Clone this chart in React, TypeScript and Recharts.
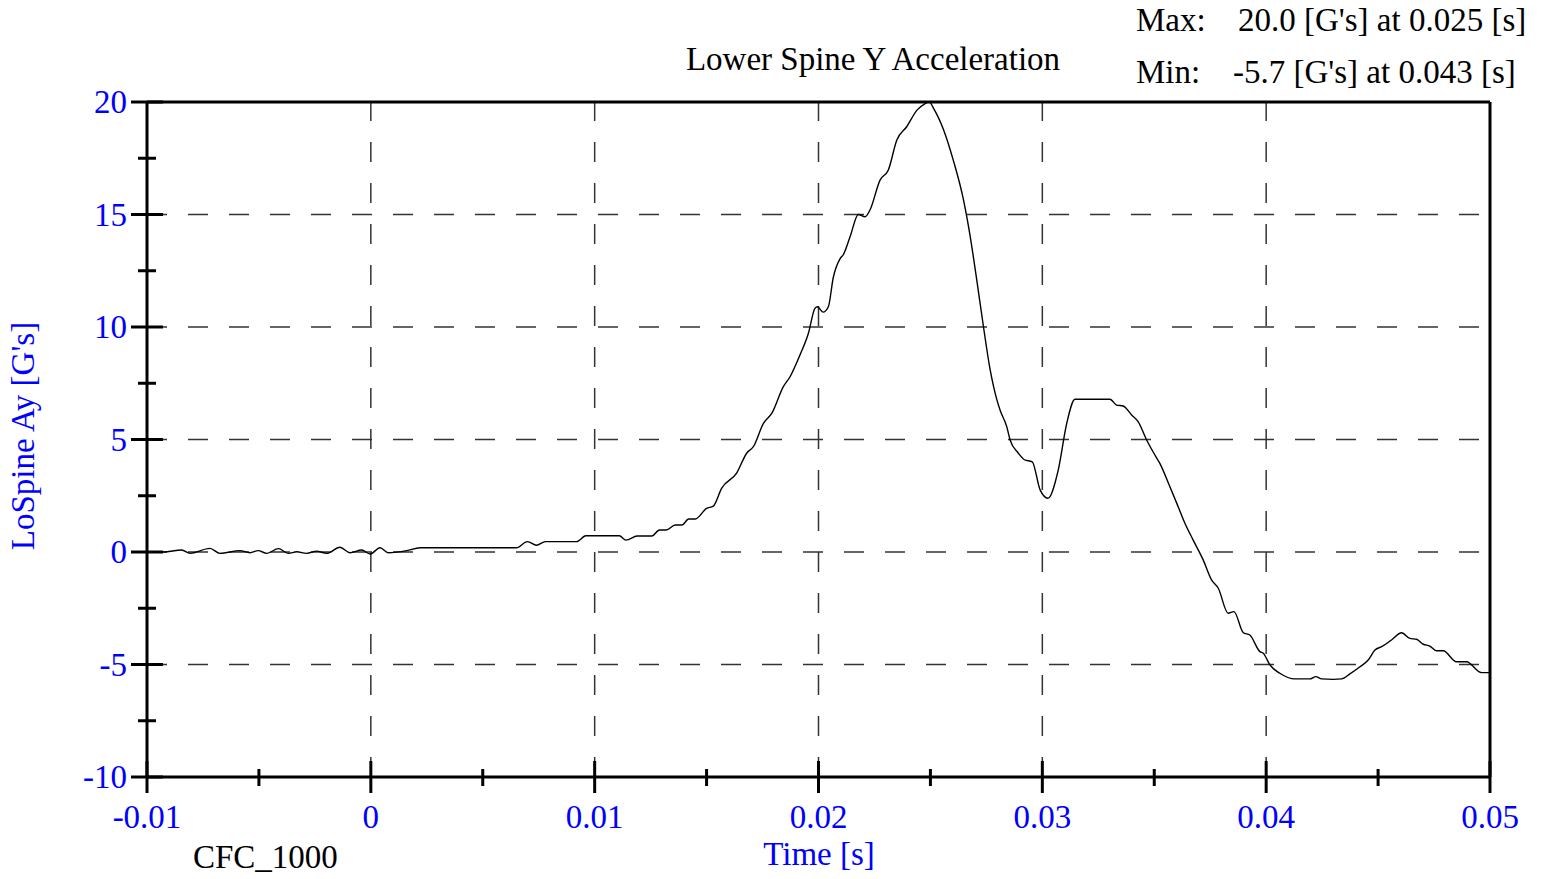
import { LineChart, Line, XAxis, YAxis, ReferenceLine } from "recharts";

const time = [
  -0.01, -0.00927, -0.00845, -0.00808, -0.00719, -0.00674, -0.00585, -0.0054, -0.00503, -0.00465,
  -0.00413, -0.00369, -0.00331, -0.00287, -0.00242, -0.00197, -0.00138, -0.00093, -0.00041, -0.00003,
  0.00041, 0.00078, 0.0016, 0.0022, 0.0065, 0.007, 0.0074, 0.0078, 0.0092, 0.0096,
  0.0111, 0.0114, 0.0119, 0.01255, 0.0129, 0.0132, 0.0136, 0.0139, 0.0142, 0.0145,
  0.015, 0.0153, 0.01567, 0.01635, 0.01679, 0.01709, 0.01754, 0.01791, 0.01843, 0.01873,
  0.01917, 0.01955, 0.01984, 0.01995, 0.0202, 0.02044, 0.02066, 0.02096, 0.0211, 0.02141,
  0.02178, 0.02208, 0.0223, 0.02275, 0.02312, 0.0235, 0.02394, 0.0244, 0.02475, 0.02495,
  0.02514, 0.02559, 0.02604, 0.02648, 0.02678, 0.02707, 0.02737, 0.02767, 0.02797, 0.02811,
  0.02841, 0.02856, 0.02893, 0.0292, 0.02955, 0.0299, 0.03025, 0.03071, 0.03109, 0.03146,
  0.03302, 0.03332, 0.03361, 0.03399, 0.03428, 0.03466, 0.03503, 0.03525, 0.0357, 0.03607,
  0.03637, 0.03674, 0.03719, 0.03756, 0.03786, 0.0383, 0.03856, 0.03898, 0.03927, 0.03972,
  0.03987, 0.04017, 0.04061, 0.04128, 0.04195, 0.04222, 0.04248, 0.043, 0.04337, 0.04374,
  0.04419, 0.04456, 0.04486, 0.04516, 0.0456, 0.04605, 0.04642, 0.04672, 0.04702, 0.04731,
  0.04761, 0.04791, 0.0485, 0.04895, 0.04962, 0.05,
];

const accel = [
  0, 0, 0.09, -0.06, 0.16, -0.06, 0.06, -0.03, 0.06, -0.06,
  0.15, -0.06, 0.01, -0.06, 0.04, -0.06, 0.21, -0.03, 0.09, -0.09,
  0.19, -0.03, 0.06, 0.19, 0.19, 0.46, 0.3, 0.46, 0.46, 0.72,
  0.72, 0.53, 0.71, 0.71, 0.98, 0.98, 1.2, 1.2, 1.47, 1.47,
  1.94, 2.04, 2.83, 3.52, 4.39, 4.68, 5.72, 6.16, 7.35, 7.79,
  8.75, 9.72, 10.83, 10.9, 10.66, 10.9, 12.2, 13.03, 13.2, 14.01,
  15.0, 14.9, 15.2, 16.53, 16.98, 18.31, 18.9, 19.64, 19.92, 20.0,
  19.72, 18.76, 17.35, 15.64, 14.01, 12.09, 10.01, 8.09, 6.76, 6.31,
  5.57, 4.98, 4.39, 4.1, 4.01, 2.76, 2.39, 3.64, 5.72, 6.79,
  6.79, 6.53, 6.49, 6.09, 5.79, 4.98, 4.31, 3.94, 2.9, 2.01,
  1.28, 0.53, -0.36, -1.24, -1.61, -2.72, -2.65, -3.59, -3.69, -4.43,
  -4.5, -5.02, -5.39, -5.64, -5.64, -5.54, -5.64, -5.66, -5.64, -5.42,
  -5.1, -4.8, -4.36, -4.21, -3.91, -3.59, -3.84, -3.88, -4.1, -4.18,
  -4.39, -4.39, -4.88, -4.88, -5.36, -5.36,
];

const xTicks = [-0.01, -0.005, 0, 0.005, 0.01, 0.015, 0.02, 0.025, 0.03, 0.035, 0.04, 0.045, 0.05];
const yTicks = [-10, -7.5, -5, -2.5, 0, 2.5, 5, 7.5, 10, 12.5, 15, 17.5, 20];
const xGrid = [0, 0.01, 0.02, 0.03, 0.04];
const yGrid = [-5, 0, 5, 10, 15];

const data = time.map((t, i) => ({ t, ay: accel[i] }));

const BLUE = "#0000ff";
const FONT = "'Liberation Serif', 'Times New Roman', serif";
const FS = 33;

const isMajorX = (v: number) => Math.abs(v * 100 - Math.round(v * 100)) < 1e-6;

const XTick = (props: any) => {
  const { x, y, payload } = props;
  const v = payload.value;
  const major = isMajorX(v);
  return (
    <g>
      <line x1={x} x2={x} y1={major ? y - 16 : y - 8} y2={major ? y + 16 : y + 9} stroke="#000" strokeWidth={3} />
      {major && (
        <text x={x} y={y + 51} textAnchor="middle" fill={BLUE} fontSize={FS} fontFamily={FONT}>
          {String(v)}
        </text>
      )}
    </g>
  );
};

const YTick = (props: any) => {
  const { x, y, payload } = props;
  const v = payload.value;
  const major = v % 5 === 0;
  return (
    <g>
      <line x1={major ? x - 16 : x - 9} x2={major ? x + 16 : x + 9} y1={y} y2={y} stroke="#000" strokeWidth={3} />
      {major && (
        <text x={x - 20} y={y + 11} textAnchor="end" fill={BLUE} fontSize={FS} fontFamily={FONT}>
          {String(v)}
        </text>
      )}
    </g>
  );
};

export default function App() {
  return (
    <div style={{ position: "absolute", left: 0, top: 0, width: 1545, height: 879, background: "#fff" }}>
      <LineChart
        width={1545}
        height={879}
        data={data}
        margin={{ top: 102, right: 55, bottom: 2, left: 7 }}
      >
        <XAxis
          dataKey="t"
          type="number"
          domain={[-0.01, 0.05]}
          ticks={xTicks}
          interval={0}
          height={100}
          tickSize={0}
          tickMargin={0}
          tickLine={false}
          axisLine={{ stroke: "#000", strokeWidth: 3 }}
          tick={<XTick />}
          allowDataOverflow
        />
        <YAxis
          type="number"
          domain={[-10, 20]}
          ticks={yTicks}
          interval={0}
          width={140}
          tickSize={0}
          tickMargin={0}
          tickLine={false}
          axisLine={{ stroke: "#000", strokeWidth: 3 }}
          tick={<YTick />}
          allowDataOverflow
        />
        {yGrid.map((v) => (
          <ReferenceLine key={"h" + v} y={v} stroke="#333" strokeWidth={1.5} strokeDasharray="20 21" />
        ))}
        {xGrid.map((v) => (
          <ReferenceLine key={"v" + v} x={v} stroke="#333" strokeWidth={1.5} strokeDasharray="20 21" />
        ))}
        <ReferenceLine y={20} stroke="#000" strokeWidth={3} />
        <ReferenceLine x={0.05} stroke="#000" strokeWidth={3} />
        <Line
          type="monotone"
          dataKey="ay"
          stroke="#000"
          strokeWidth={1.4}
          dot={false}
          isAnimationActive={false}
        />
      </LineChart>
      <svg
        width={1545}
        height={879}
        style={{ position: "absolute", left: 0, top: 0, pointerEvents: "none" }}
        fontFamily={FONT}
        fontSize={FS}
      >
        <text x={873} y={70} textAnchor="middle" fill="#000">Lower Spine Y Acceleration</text>
        <text x={1136} y={31} fill="#000">Max:</text>
        <text x={1238} y={31} fill="#000">20.0 [G's] at 0.025 [s]</text>
        <text x={1136} y={83} fill="#000">Min:</text>
        <text x={1233} y={83} fill="#000">-5.7 [G's] at 0.043 [s]</text>
        <text x={193} y={868} fill="#000">CFC_1000</text>
        <text x={819} y={865} textAnchor="middle" fill={BLUE}>Time [s]</text>
        <text transform="translate(34,436) rotate(-90)" textAnchor="middle" fill={BLUE}>LoSpine Ay [G's]</text>
      </svg>
    </div>
  );
}
